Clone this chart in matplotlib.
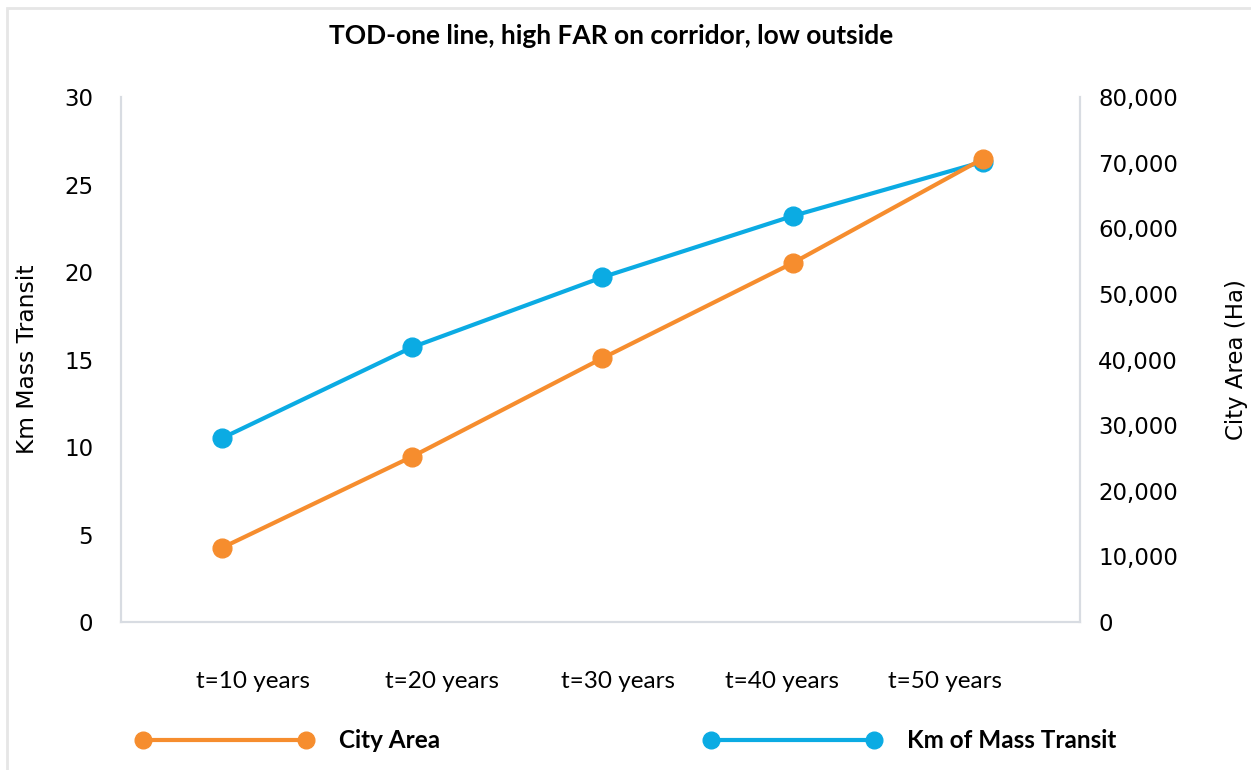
import matplotlib
matplotlib.use("Agg")
import matplotlib.pyplot as plt
import matplotlib.transforms as mtransforms
from matplotlib.lines import Line2D
from matplotlib.patches import Rectangle
from matplotlib.ticker import FuncFormatter

# Data
periods = ["t=10 years", "t=20 years", "t=30 years", "t=40 years", "t=50 years"]
city_area_ha = [11300, 25200, 40200, 54700, 70600]
transit_km = [10.5, 15.7, 19.7, 23.2, 26.3]

ORANGE = "#F68D2E"
BLUE = "#0BABE3"
SPINE = "#D8DCE2"
LABEL_FONT = ["Lato", "DejaVu Sans"]
NUM_FONT = ["DejaVu Sans"]

fig = plt.figure(figsize=(12.51, 7.70), dpi=100)
fig.patch.set_facecolor("white")

# thin outer frame
fig.add_artist(Rectangle((7 / 1251, -0.05), 1.2, (770 - 8) / 770 + 0.05,
                         transform=fig.transFigure, fill=False,
                         edgecolor="#E6E6E6", linewidth=2))

ax = fig.add_axes([121 / 1251, (770 - 622) / 770, (1080 - 121) / 1251, (622 - 97) / 770])
ax2 = ax.twinx()

x = list(range(len(periods)))

ax.plot(x, transit_km, color=BLUE, lw=3, marker="o", ms=13.5, zorder=3)
ax2.plot(x, city_area_ha, color=ORANGE, lw=3, marker="o", ms=13.5, zorder=3)

ax.set_xlim(-0.53, 4.51)
ax.set_ylim(0, 30)
ax2.set_ylim(0, 80000)
ax.set_yticks(range(0, 31, 5))
ax2.set_yticks(range(0, 80001, 10000))
ax2.yaxis.set_major_formatter(FuncFormatter(lambda v, p: f"{int(v):,}"))

for a in (ax, ax2):
    a.spines["top"].set_visible(False)
    for side in ("left", "right", "bottom"):
        a.spines[side].set_color(SPINE)
        a.spines[side].set_linewidth(1.5)
    a.tick_params(length=0)

ax.tick_params(axis="y", labelsize=16.5, pad=20)
ax2.tick_params(axis="y", labelsize=16.5, pad=13)
for lbl in ax.get_yticklabels() + ax2.get_yticklabels():
    lbl.set_family(NUM_FONT)

ax.set_xticks(x)
ax.set_xticklabels(periods, fontsize=17.5, family=LABEL_FONT)
ax.tick_params(axis="x", pad=35)
label_shift_px = [31, 30, 16, -11, -38]
for lbl, dx in zip(ax.get_xticklabels(), label_shift_px):
    lbl.set_transform(lbl.get_transform() +
                      mtransforms.ScaledTranslation(dx / 100, 0, fig.dpi_scale_trans))

ax.set_ylabel("Km Mass Transit", fontsize=16.8, family=NUM_FONT)
ax.yaxis.set_label_coords(-0.085, 0.5)
ax2.set_ylabel("City Area (Ha)", fontsize=16.5, family=NUM_FONT)
ax2.yaxis.set_label_coords(1.151, 0.5)

fig.text(611 / 1251, 1 - 36 / 770, "TOD-one line, high FAR on corridor, low outside",
         ha="center", va="center", fontsize=19, fontweight="bold", family=LABEL_FONT)

handles = [
    Line2D([], [], color=ORANGE, lw=3, marker="o", ms=12),
    Line2D([], [], color=BLUE, lw=3, marker="o", ms=12),
]
fig.legend(handles, ["City Area", "Km of Mass Transit"], loc="center",
           bbox_to_anchor=(626 / 1251, 1 - 741 / 770), ncol=2, frameon=False,
           numpoints=2, handlelength=7.3, handletextpad=1.05, columnspacing=10.85,
           prop={"family": LABEL_FONT, "weight": "bold", "size": 17.5})

fig.savefig("out.png", dpi=100, facecolor="white")
